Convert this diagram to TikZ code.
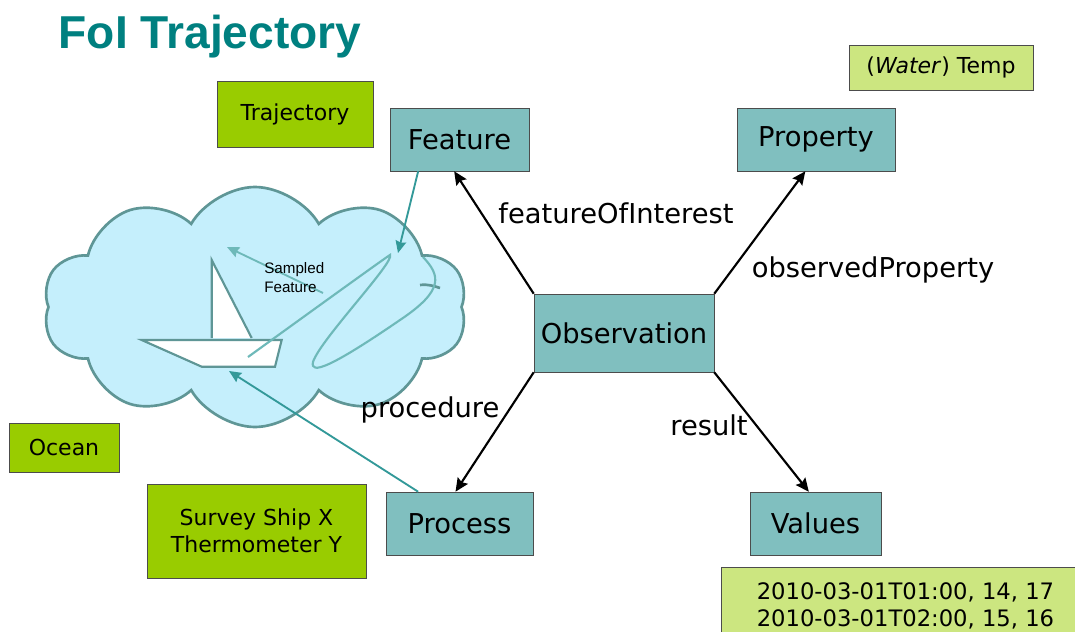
\documentclass[tikz,border=0pt]{standalone}
\usepackage{fontspec}
\setmainfont{DejaVu Sans}
\newfontfamily\arialfont{Liberation Sans}
\usetikzlibrary{arrows, arrows.meta, shapes, shapes.symbols, positioning, calc}
\definecolor{boxteal}{RGB}{128,191,191}
\definecolor{boxgreen}{RGB}{153,204,0}
\definecolor{palegreen}{RGB}{204,230,128}
\definecolor{titleteal}{RGB}{0,128,128}
\definecolor{oceanblue}{RGB}{197,239,252}
\definecolor{oceanline}{RGB}{95,150,150}
\definecolor{linkteal}{RGB}{51,153,153}
\definecolor{trackteal}{RGB}{110,185,185}
\tikzset{
  conc/.style={draw=black!70, fill=boxteal, inner sep=0pt, minimum height=47.25pt, font=\fontsize{20.5}{24}\selectfont},
  inst/.style={draw=black!70, fill=boxgreen, inner sep=0pt, align=center, font=\fontsize{16.5}{20}\selectfont},
  rel/.style={-{Stealth[length=10pt,width=9pt,inset=1.5pt]}, line width=1.6pt},
  lnk/.style={-{Stealth[length=9pt,width=8pt,inset=1pt]}, draw=linkteal, line width=1.4pt},
  lbl/.style={font=\fontsize{20.5}{24}\selectfont},
  puff/.style={draw=oceanline, line width=2pt}
}
\begin{document}
\begin{tikzpicture}[x=0.75pt,y=-0.75pt]
\useasboundingbox (0,0) rectangle (1075,632);
\node[text=titleteal, font=\arialfont\bfseries\fontsize{34.6}{40}\selectfont] (title) at (210,37) {FoI Trajectory};
% Ocean
\node[cloud, cloud puffs=10, cloud puff arc=120, draw=oceanline, fill=oceanblue, line width=2pt, minimum width=318pt, minimum height=180pt] (ocean_cloud) at (255,307) {};
\draw[puff] (420,285) .. controls (428,284) and (434,286) .. (440,288);
\filldraw[fill=white, draw=oceanline, line width=1.6pt] (211.7,338) -- (211.7,260) -- (251.7,338);
\filldraw[fill=white, draw=oceanline, line width=1.6pt] (141.7,340) -- (281.7,340) -- (275,366.7) -- (201.7,366.7) -- cycle;
\draw[trackteal, line width=1.6pt] (248,357) .. controls (320,305) and (385,258) .. (390,255) .. controls (395,262) and (320,340) .. (313,362) .. controls (310,375) and (330,368) .. (400,320) .. controls (445,290) and (440,275) .. (423,257);
\coordinate (sf_from) at (323,293);
\coordinate (sf_to) at (227,247);
\draw[lnk, draw=trackteal] (sf_from) -- (sf_to);
\node[font=\arialfont\fontsize{11.4}{14.2}\selectfont, align=left, anchor=north west, inner sep=0pt] (sf_label) at (264,262) {Sampled\\Feature};
% Concepts
\node[conc, minimum width=104.25pt] (feature) at (459.5,139.5) {Feature};
\node[conc, minimum width=118.5pt] (property) at (816,139.5) {Property};
\node[conc, minimum width=135pt, minimum height=58.5pt] (obs) at (624,333) {Observation};
\node[conc, minimum width=110.25pt] (process) at (459.5,523.5) {Process};
\node[conc, minimum width=98.25pt] (values) at (815.5,523.5) {Values};
\draw[rel] (obs.north west) -- ([xshift=-4pt]feature.south);
\draw[rel] (obs.north east) -- ([xshift=-8pt]property.south);
\draw[rel] (obs.south west) -- ([xshift=-3pt]process.north);
\draw[rel] (obs.south east) -- ([xshift=-5pt]values.north);
\node[lbl] (l_foi) at (616,213) {featureOfInterest};
\node[lbl] (l_prop) at (873,270) {observedProperty};
\node[lbl] (l_proc) at (430,410) {procedure};
\node[lbl] (l_res) at (709,425) {result};
% Instances
\node[inst, minimum width=117pt, minimum height=49.5pt] (traj) at (295,114) {Trajectory};
\node[inst, minimum width=82.5pt, minimum height=36.75pt] (ocean) at (64,447.5) {Ocean};
\node[inst, minimum width=164.25pt, minimum height=70.5pt] (survey) at (256.5,531) {Survey Ship X\\Thermometer Y};
\node[inst, fill=palegreen, minimum width=138pt, minimum height=33.75pt] (temp) at (941,67.5) {(\textit{Water}) Temp};
\node[inst, fill=palegreen, minimum width=276.75pt, minimum height=57.75pt, font=\fontsize{17}{20}\selectfont] (data) at (905.5,606) {2010-03-01T01:00, 14, 17\\2010-03-01T02:00, 15, 16};
\coordinate (track_hit) at (398,253);
\coordinate (ship_hit) at (229,371);
\draw[lnk] ([xshift=-31pt]feature.south) -- (track_hit);
\draw[lnk] ([xshift=-31pt]process.north) -- (ship_hit);
\end{tikzpicture}
\end{document}
